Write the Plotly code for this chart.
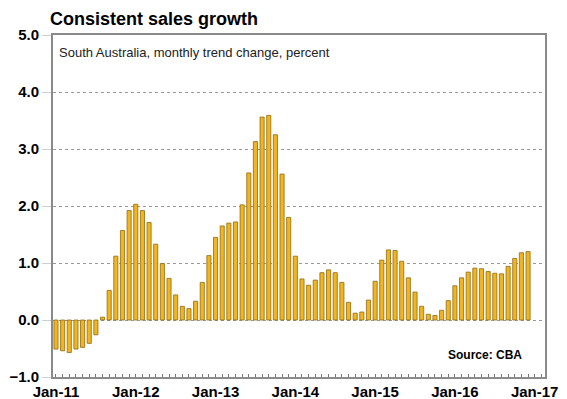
import pandas as pd
import plotly.graph_objects as go

# Monthly trend change in South Australian retail sales, Jan-2011 to Dec-2016 (percent)
months = pd.date_range("2011-01-01", "2016-12-01", freq="MS").strftime("%b-%y").tolist()
sales_change = [
    -0.51, -0.54, -0.57, -0.51, -0.48, -0.41, -0.26, 0.05, 0.52, 1.12, 1.57, 1.92,
    2.03, 1.92, 1.71, 1.33, 0.99, 0.73, 0.44, 0.24, 0.20, 0.33, 0.66, 1.13,
    1.45, 1.65, 1.70, 1.72, 2.02, 2.58, 3.13, 3.56, 3.59, 3.25, 2.56, 1.80,
    1.12, 0.72, 0.61, 0.70, 0.83, 0.88, 0.83, 0.66, 0.31, 0.12, 0.14, 0.35,
    0.68, 1.05, 1.23, 1.22, 1.03, 0.74, 0.49, 0.24, 0.10, 0.08, 0.17, 0.34,
    0.60, 0.74, 0.84, 0.91, 0.90, 0.85, 0.82, 0.81, 0.94, 1.08, 1.18, 1.20,
]
year_labels = ["Jan-11", "Jan-12", "Jan-13", "Jan-14", "Jan-15", "Jan-16", "Jan-17"]
y_ticks = [-1, 0, 1, 2, 3, 4, 5]

x_idx = list(range(len(months)))
label_pos = [12 * i for i in range(len(year_labels))]

FONT = "Liberation Sans, Arial, sans-serif"

fig = go.Figure(
    go.Bar(
        x=x_idx,
        y=sales_change,
        customdata=months,
        hovertemplate="%{customdata}: %{y:.2f}%<extra></extra>",
        width=0.62,
        marker=dict(color="#F2B41F", line=dict(color="#8E6C12", width=0.8)),
    )
)

fig.update_layout(
    width=567,
    height=399,
    margin=dict(l=53, r=22, t=35, b=22),
    paper_bgcolor="white",
    plot_bgcolor="white",
    showlegend=False,
    font=dict(family=FONT, color="black"),
    annotations=[
        dict(
            text="Consistent sales growth",
            xref="paper", yref="paper", x=-0.01, y=1.046,
            xanchor="left", yanchor="middle", showarrow=False,
            font=dict(size=18, weight="bold", color="black"),
        ),
        dict(
            text="South Australia, monthly trend change, percent",
            xref="paper", yref="paper", x=0.008, y=0.95,
            xanchor="left", yanchor="middle", showarrow=False,
            font=dict(size=13, color="#222222"),
        ),
        dict(
            text="Source: CBA",
            xref="paper", yref="paper", x=0.957, y=0.064,
            xanchor="right", yanchor="middle", showarrow=False,
            font=dict(size=12, weight="bold", color="black"),
        ),
    ],
)

fig.update_xaxes(
    automargin=False,
    range=[-0.45, 73.55],
    tickvals=label_pos,
    ticktext=year_labels,
    ticks="inside",
    ticklen=3,
    tickcolor="#777777",
    minor=dict(dtick=1, tick0=0, ticks="inside", ticklen=3, tickcolor="#777777"),
    tickfont=dict(size=15, weight="bold", color="black"),
    showgrid=False,
    zeroline=False,
    showline=True,
    linecolor="#8a8a8a",
    linewidth=2,
    mirror=True,
)

fig.update_yaxes(
    automargin=False,
    range=[-1, 5],
    tickvals=y_ticks,
    tickformat=".1f",
    ticks="outside",
    ticklen=9,
    tickcolor="#cfcfcf",
    tickfont=dict(size=15, weight="bold", color="black"),
    showgrid=True,
    gridcolor="#9a9a9a",
    griddash="dot",
    gridwidth=1,
    zeroline=False,
    showline=True,
    linecolor="#8a8a8a",
    linewidth=2,
    mirror=True,
)

fig.write_html("out.html")
